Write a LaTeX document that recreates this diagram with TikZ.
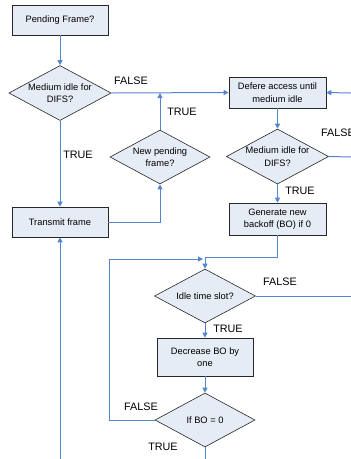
\documentclass[tikz,border=0pt]{standalone}
\usepackage{fontspec}
\setmainfont{Liberation Sans}
\usetikzlibrary{shapes.geometric,arrows.meta}
\definecolor{boxfill}{HTML}{E6ECF6}
\definecolor{flowc}{HTML}{5585CC}
\begin{document}
\begin{tikzpicture}[x=1pt,y=-1pt,
  box/.style={draw=black!85, fill=boxfill, line width=0.6pt, inner sep=1pt, align=center,
    font=\fontsize{9.3}{12.5}\selectfont},
  dec/.style={draw=black!85, fill=boxfill, line width=0.6pt, diamond, aspect=2, inner sep=0pt,
    align=center, font=\fontsize{9.3}{12.5}\selectfont},
  flow/.style={draw=flowc, line width=1pt},
  arr/.style={flow, -{Triangle[width=5pt,length=5pt]}},
  lab/.style={font=\fontsize{10.8}{12}\selectfont, inner sep=0pt}]
\useasboundingbox (0,0) rectangle (351,459);
% nodes
\node[box, minimum width=96pt, minimum height=30pt] (pf) at (60,20) {Pending Frame?};
\node[dec, minimum width=100pt, minimum height=55pt] (d1) at (60,93) {Medium idle for\\DIFS?};
\node[box, minimum width=97pt, minimum height=31pt] (df) at (277.5,92.5) {Defere access until\\medium idle};
\node[dec, minimum width=101pt, minimum height=55pt] (d2) at (277.5,156.5) {Medium idle for\\DIFS?};
\node[box, minimum width=97pt, minimum height=32pt] (gen) at (277.5,219) {Generate new\\backoff (BO) if 0};
\node[dec, minimum width=101pt, minimum height=54pt] (idle) at (205,296) {Idle time slot?};
\node[box, minimum width=96pt, minimum height=38pt] (dec) at (205,357) {Decrease BO by\\one};
\node[dec, minimum width=100pt, minimum height=54pt] (bo) at (205,420) {If BO = 0};
\node[box, minimum width=96pt, minimum height=30pt] (tx) at (60,222) {Transmit frame};
\node[dec, minimum width=100pt, minimum height=54pt] (np) at (160,157) {New pending\\frame?};
% free ends
\coordinate (r1) at (351,93);
\coordinate (r2) at (351,157);
\coordinate (r3) at (351,296);
\coordinate (b1) at (205,459);
\coordinate (b2) at (60,459);
\coordinate (j) at (205,257);
\coordinate (jl) at (203,259);
\coordinate (lc) at (109,259);
% connectors
\draw[arr] (pf) -- (d1);
\draw[arr] (d1.east) -- (df.west);
\draw[arr] (d1) -- (tx);
\draw[arr] (tx.east) -| (np.south);
\draw[arr] (np.north) -- (np.north |- d1.east);
\draw[arr] (r1) -- (df.east);
\draw[arr] (df) -- (d2);
\draw[flow] (d2.east) -- (r2);
\draw[arr] (d2) -- (gen);
\draw[flow] (gen.south) |- (j);
\draw[arr] (j) -- (idle.north);
\draw[arr] (bo.west) -| (lc) -- (jl);
\draw[flow] (idle.east) -- (r3);
\draw[arr] (idle) -- (dec);
\draw[arr] (dec) -- (bo);
\draw[flow] (bo.south) -- (b1);
\draw[arr] (b2) -- (tx.south);
% labels
\node[lab] (l1) at (131,81) {FALSE};
\node[lab] (l2) at (78,155) {TRUE};
\node[lab] (l3) at (182,112) {TRUE};
\node[lab, anchor=west] (l4) at (321,133) {FALSE};
\node[lab] (l5) at (300,191) {TRUE};
\node[lab] (l6) at (280,282) {FALSE};
\node[lab] (l7) at (228,329) {TRUE};
\node[lab] (l8) at (141,407) {FALSE};
\node[lab] (l9) at (163,447) {TRUE};
\end{tikzpicture}
\end{document}
